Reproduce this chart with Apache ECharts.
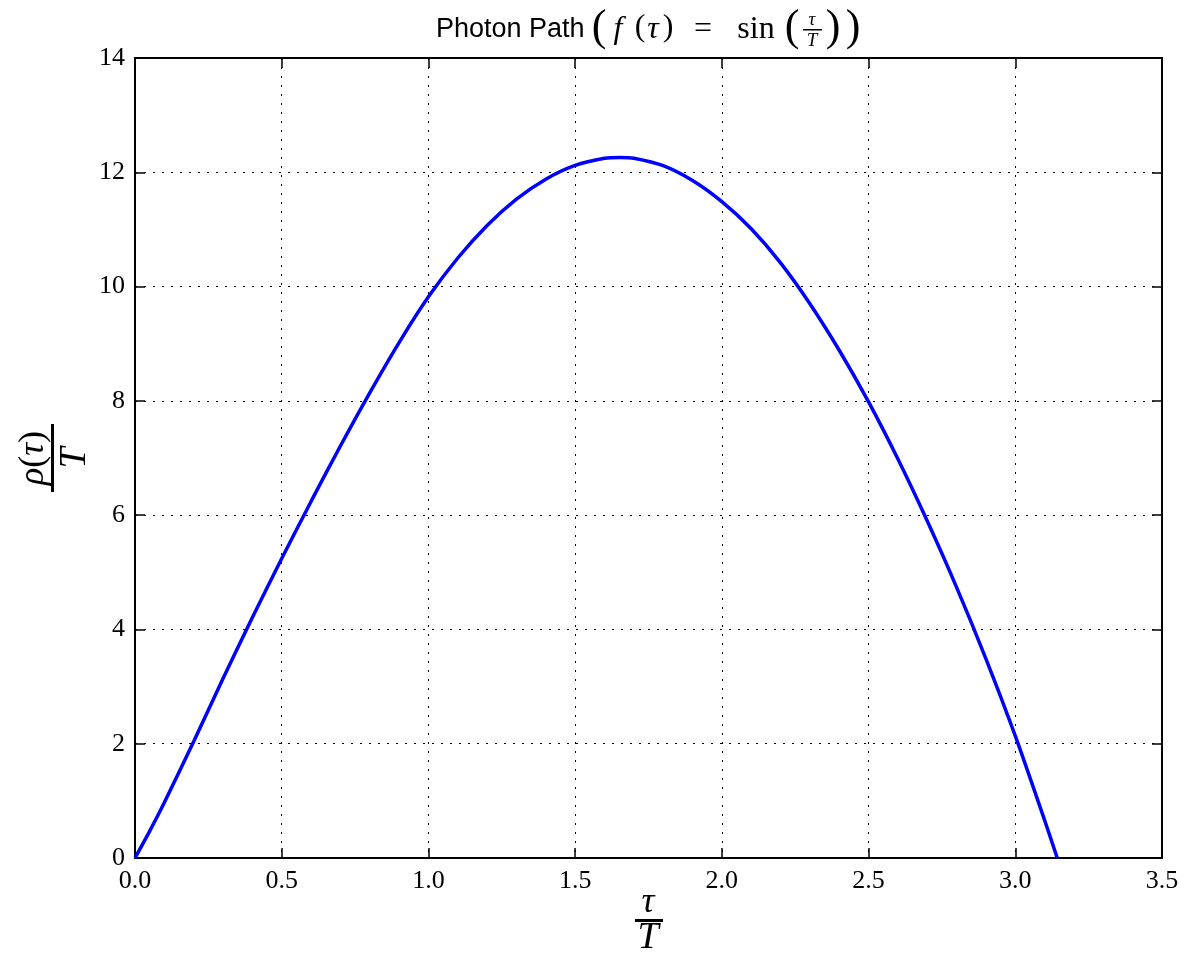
<!DOCTYPE html>
<html>
<head>
<meta charset="utf-8">
<script src="https://cdn.jsdelivr.net/npm/echarts@6/dist/echarts.min.js"></script>
<style>
  html, body { margin: 0; padding: 0; background: #fff; }
  #main { width: 1186px; height: 956px; }
</style>
</head>
<body>
<div id="main"></div>
<script>
// tau/T values
const tauOverT = [0, 0.05, 0.1, 0.2, 0.3, 0.4, 0.5, 0.6, 0.7, 0.8, 0.9, 1.0, 1.1, 1.2, 1.3, 1.4, 1.5, 1.6, 1.653,
  1.7, 1.8, 1.9, 2.0, 2.1, 2.2, 2.3, 2.4, 2.5, 2.6, 2.7, 2.8, 2.9, 3.0, 3.1, 3.143];
// rho(tau)/T
const rhoOverT = [0, 0.47, 0.97, 2.04, 3.14, 4.21, 5.24, 6.24, 7.21, 8.14, 9.02, 9.82, 10.5, 11.07, 11.53, 11.88, 12.12, 12.245, 12.26,
  12.246, 12.116, 11.856, 11.486, 11.011, 10.416, 9.701, 8.886, 7.981, 6.981, 5.896, 4.736, 3.486, 2.136, 0.66, 0];

const xTicks = [0, 0.5, 1.0, 1.5, 2.0, 2.5, 3.0, 3.5];
const yTicks = [0, 2, 4, 6, 8, 10, 12, 14];

const serif = "'Liberation Serif', 'DejaVu Serif', serif";
const sans = "'Liberation Sans', Arial, sans-serif";

const chart = echarts.init(document.getElementById('main'));

const tickStyle = { inside: true, length: 10, lineStyle: { color: '#000', width: 1.5 } };
const frameLine = { show: true, onZero: false, lineStyle: { color: '#000', width: 2 } };
const gridLine = { show: true, lineStyle: { color: '#000', width: 1, type: [2, 7] } };

// centred math glyph
function glyph(x, y, str, size, italic) {
  return {
    type: 'text', x: x, y: y,
    style: { text: str, font: (italic ? 'italic ' : '') + size + 'px ' + serif, fill: '#000',
      textAlign: 'center', textVerticalAlign: 'middle' }
  };
}

const option = {
  animation: false,
  backgroundColor: '#fff',
  grid: { left: 135, right: 24, top: 58, bottom: 98 },
  xAxis: [
    {
      type: 'value', min: 0, max: 3.5, interval: 0.5, position: 'bottom',
      axisLine: frameLine, axisTick: tickStyle, splitLine: gridLine,
      axisLabel: { margin: 10, color: '#000', fontFamily: serif, fontSize: 26,
        formatter: v => xTicks.includes(+v.toFixed(1)) ? v.toFixed(1) : '' }
    },
    {
      type: 'value', min: 0, max: 3.5, interval: 0.5, position: 'top',
      axisLine: frameLine, axisTick: tickStyle, splitLine: { show: false }, axisLabel: { show: false }
    }
  ],
  yAxis: [
    {
      type: 'value', min: 0, max: 14, interval: 2, position: 'left',
      axisLine: frameLine, axisTick: tickStyle, splitLine: gridLine,
      axisLabel: { margin: 10, color: '#000', fontFamily: serif, fontSize: 26,
        formatter: v => yTicks.includes(v) ? String(v) : '' }
    },
    {
      type: 'value', min: 0, max: 14, interval: 2, position: 'right',
      axisLine: frameLine, axisTick: tickStyle, splitLine: { show: false }, axisLabel: { show: false }
    }
  ],
  series: [{
    type: 'line',
    data: tauOverT.map((t, i) => [t, rhoOverT[i]]),
    smooth: 0.25,
    showSymbol: false,
    lineStyle: { color: '#0000ff', width: 3.5 },
    itemStyle: { color: '#0000ff' }
  }],
  graphic: [
    // title
    { type: 'text', x: 436, y: 30, style: { text: 'Photon Path', font: '27px ' + sans, fill: '#000',
        textAlign: 'left', textVerticalAlign: 'middle' } },
    glyph(599, 28, '(', 44, false),
    glyph(618, 30, 'f', 32, true),
    glyph(640, 28, '(', 32, false),
    glyph(653, 30, 'τ', 32, true),
    glyph(668, 28, ')', 32, false),
    glyph(703, 30, '=', 32, false),
    glyph(756, 30, 'sin', 32, false),
    glyph(792, 28, '(', 44, false),
    glyph(812, 20, 'τ', 19, true),
    { type: 'rect', shape: { x: 803, y: 29, width: 19, height: 1.5 }, style: { fill: '#000' } },
    glyph(812, 41, 'T', 19, true),
    glyph(833, 28, ')', 44, false),
    glyph(853, 28, ')', 44, false),

    // x axis label: tau over T
    glyph(648, 903, 'τ', 36, true),
    { type: 'rect', shape: { x: 635, y: 919, width: 28, height: 3 }, style: { fill: '#000' } },
    glyph(648, 938, 'T', 38, true),

    // y axis label: rho(tau) over T, rotated
    { type: 'rect', shape: { x: 51, y: 424, width: 3, height: 68 }, style: { fill: '#000' } },
    { type: 'text', x: 34, y: 458, rotation: Math.PI / 2,
      style: { text: '{i|ρ}{u|(}{i|τ}{u|)}', fill: '#000', textAlign: 'center', textVerticalAlign: 'middle',
        rich: { i: { font: 'italic 36px ' + serif }, u: { font: '36px ' + serif } } } },
    { type: 'text', x: 75, y: 458, rotation: Math.PI / 2,
      style: { text: 'T', font: 'italic 38px ' + serif, fill: '#000', textAlign: 'center', textVerticalAlign: 'middle' } }
  ]
};

chart.setOption(option);
</script>
</body>
</html>
